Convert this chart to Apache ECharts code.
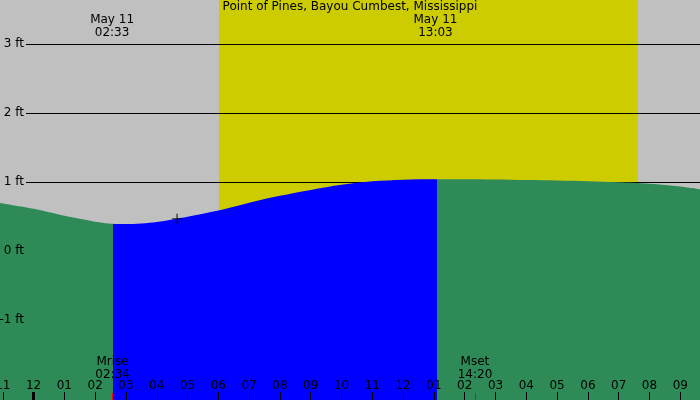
<!DOCTYPE html>
<html>
<head>
<meta charset="utf-8">
<title>Point of Pines, Bayou Cumbest, Mississippi</title>
<script src="https://cdn.jsdelivr.net/npm/echarts@6.0.0/dist/echarts.min.js"></script>
<style>
    html, body {
        margin: 0;
        padding: 0;
        overflow: hidden;
    }
    #chart {
        width: 700px;
        height: 400px;
    }
</style>
</head>
<body>
<div id="chart"></div>
<script>
// time in hours from midnight May 11 (negative = evening of May 10)
var tideHours = [-1.09, 0, 1, 2, 2.55, 3, 4, 5, 6, 7, 8, 9, 10, 11, 12, 13.05, 14, 15, 16, 17, 18, 19, 20, 21, 21.64];
var tideFeet  = [0.70, 0.615, 0.515, 0.43, 0.40, 0.395, 0.425, 0.50, 0.59, 0.705, 0.805, 0.89, 0.965, 1.015, 1.038, 1.045, 1.045, 1.04, 1.032, 1.025, 1.015, 1.00, 0.98, 0.94, 0.90];

var hourTicks  = [-1, 0, 1, 2, 3, 4, 5, 6, 7, 8, 9, 10, 11, 12, 13, 14, 15, 16, 17, 18, 19, 20, 21];
var hourLabels = ['11', '12', '01', '02', '03', '04', '05', '06', '07', '08', '09', '10', '11', '12', '01', '02', '03', '04', '05', '06', '07', '08', '09'];
var feetTicks  = [-1, 0, 1, 2, 3];

var sunRise = 6.02, sunSet = 19.62;
var moonRise = 2.567, moonSet = 14.333;
var moonFillEnd = 13.1;
var moonLabels = ['Mrise\n02:34', 'Mset\n14:20'];
var tideEventHours  = [2.55, 13.05];
var tideEventLabels = ['May 11\n02:33', 'May 11\n13:03'];
var nowHour = 4.66, nowFeet = 0.472;

var xMin = -1.09, xMax = 21.64;
var yMin = -2.155, yMax = 3.642;

var font = 'DejaVu Sans';
var ink = '#000';
var green = '#2e8b57', blue = '#0000ff';

var tideData = tideHours.map(function (h, i) { return [h, tideFeet[i]]; });

var chart = echarts.init(document.getElementById('chart'));

function hourAxis(extra) {
    var ax = {
        type: 'value', gridIndex: 0, min: xMin, max: xMax, z: 11, position: 'bottom', offset: 0,
        axisLine: {show: false, onZero: false},
        splitLine: {show: false},
        axisLabel: {show: false}
    };
    for (var k in extra) ax[k] = extra[k];
    return ax;
}

var option = {
    animation: false,
    grid: [
        {left: 0, right: 0, top: 0, bottom: 0, outerBoundsMode: 'none', containLabel: false,
            show: true, backgroundColor: '#c0c0c0', borderWidth: 0},
        {left: 26, right: 0, top: 0, bottom: 0, outerBoundsMode: 'none', containLabel: false}
    ],
    xAxis: [
        hourAxis({
            z: 10,
            axisTick: {inside: true, length: 8, customValues: hourTicks, lineStyle: {color: '#000', width: 1}},
            axisLabel: {
                inside: true, margin: 8, customValues: hourTicks,
                color: ink, fontFamily: font, fontSize: 12,
                formatter: function (v) { return hourLabels[hourTicks.indexOf(v)]; }
            }
        }),
        // midnight
        hourAxis({
            axisTick: {inside: true, length: 8, customValues: [0], lineStyle: {color: '#000', width: 3}}
        }),
        // moonrise / moonset
        hourAxis({
            axisTick: {inside: true, length: 7, customValues: [moonRise, moonSet], lineStyle: {color: '#ff0000', width: 1}}
        }),
        {type: 'value', gridIndex: 1, min: xMin, max: xMax, show: false}
    ],
    yAxis: [
        {
            type: 'value', gridIndex: 0, min: yMin, max: yMax, z: 10,
            axisLine: {show: false, onZero: false}, axisTick: {show: false}, splitLine: {show: false},
            axisLabel: {
                inside: true, align: 'right', margin: 24, customValues: feetTicks,
                color: ink, fontFamily: font, fontSize: 12,
                formatter: function (v) { return v + ' ft'; }
            }
        },
        {
            type: 'value', gridIndex: 1, min: yMin, max: yMax, z: 2,
            axisLine: {show: false, onZero: false}, axisLabel: {show: false},
            axisTick: {show: false, customValues: feetTicks},
            splitLine: {show: true, lineStyle: {color: '#000', width: 1}}
        }
    ],
    // moon-up stretch of the tide fill is blue, the rest green
    visualMap: {
        type: 'piecewise', show: false, dimension: 0, seriesIndex: 1,
        pieces: [
            {lt: moonRise, color: green},
            {gte: moonRise, lte: moonFillEnd, color: blue},
            {gt: moonFillEnd, color: green}
        ]
    },
    series: [
        {
            name: 'daylight', type: 'line', xAxisIndex: 0, yAxisIndex: 0, z: 1,
            data: tideData, symbol: 'none', silent: true,
            lineStyle: {width: 0, opacity: 0},
            markArea: {
                silent: true,
                itemStyle: {color: '#cccc00'},
                data: [[{xAxis: sunRise}, {xAxis: sunSet}]]
            }
        },
        {
            name: 'tide', type: 'line', xAxisIndex: 0, yAxisIndex: 0, z: 3,
            data: tideData, smooth: 0.3, symbol: 'none', silent: true,
            lineStyle: {width: 0},
            areaStyle: {opacity: 1, origin: 'start'}
        },
        {
            name: 'now', type: 'scatter', xAxisIndex: 0, yAxisIndex: 0, z: 5,
            data: [[nowHour, nowFeet]], silent: true,
            symbol: 'path://M0,5L10,5M5,0L5,10', symbolSize: 10,
            itemStyle: {color: 'none', borderColor: '#000', borderWidth: 1.2}
        }
    ]
};
chart.setOption(option);

function xAt(h) {
    return chart.convertToPixel({xAxisIndex: 0}, h);
}

var textFont = '12px "' + font + '"';
var texts = [{
    type: 'text', x: 350, y: 1, z: 20,
    style: {text: 'Point of Pines, Bayou Cumbest, Mississippi', fill: ink, font: textFont, align: 'center', verticalAlign: 'top'}
}];
tideEventHours.forEach(function (h, i) {
    texts.push({
        type: 'text', x: xAt(h), y: 14, z: 20,
        style: {text: tideEventLabels[i], fill: ink, font: textFont, align: 'center', verticalAlign: 'top', lineHeight: 12.5}
    });
});
[moonRise, moonSet].forEach(function (h, i) {
    texts.push({
        type: 'text', x: xAt(h), y: 356, z: 20,
        style: {text: moonLabels[i], fill: ink, font: textFont, align: 'center', verticalAlign: 'top', lineHeight: 12.5}
    });
});
chart.setOption({graphic: texts});
</script>
</body>
</html>
